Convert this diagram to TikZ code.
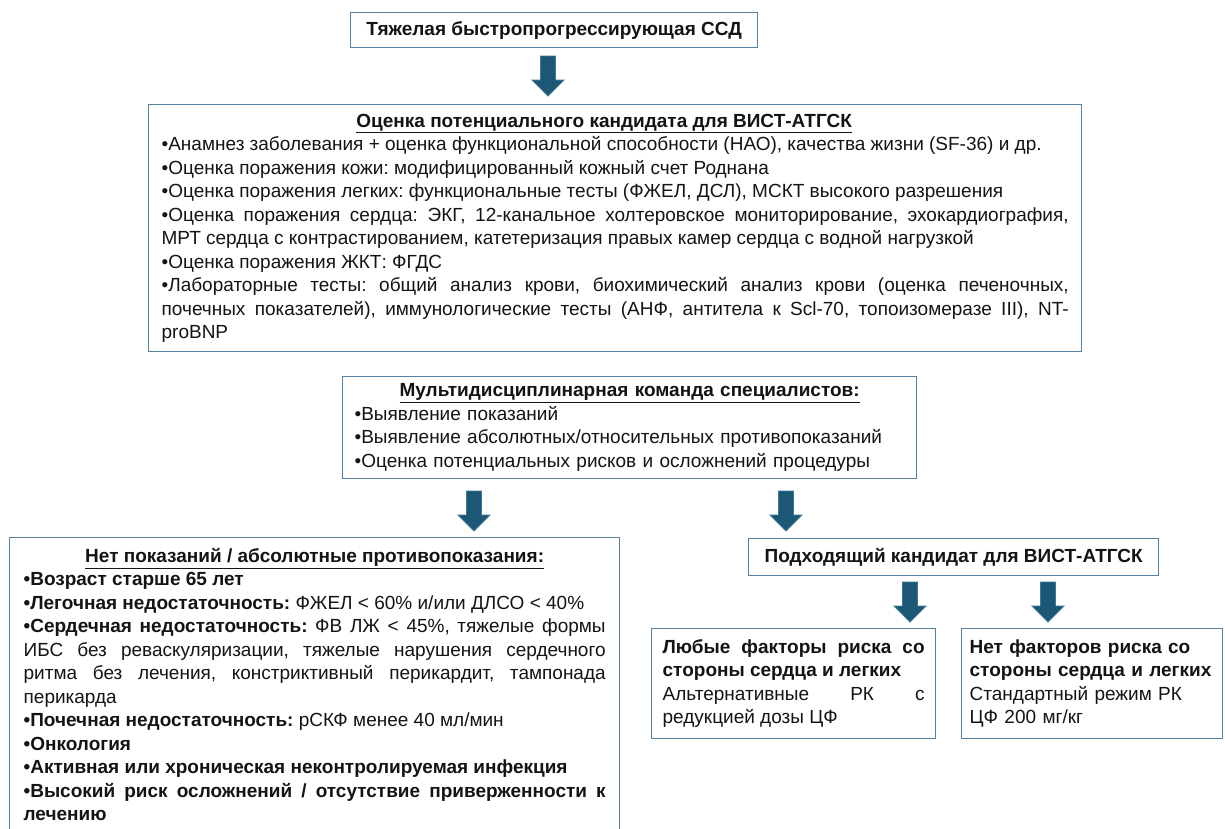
\documentclass[tikz,border=0pt]{standalone}
\usepackage{fontspec}
\setmainfont{Liberation Sans}
\definecolor{boxborder}{RGB}{84,130,160}
\definecolor{arrowfill}{RGB}{28,88,118}
\definecolor{arrowedge}{RGB}{62,122,152}
\definecolor{txt}{RGB}{20,20,20}
\newcommand{\myfs}{\fontsize{19}{23.5}\selectfont\frenchspacing}
\hyphenpenalty=10000
\exhyphenpenalty=10000
\frenchspacing
\begin{document}
\begin{tikzpicture}[x=1pt,y=-1pt,
  box/.style={draw=boxborder, line width=1.3pt, fill=white, inner xsep=11pt, inner ysep=3pt,
    text=txt, font=\myfs},
  blockarrow/.style={fill=arrowfill, draw=arrowedge, line width=0.8pt, line join=miter},
  downarrow/.pic={\draw[blockarrow] (-7.5,0) -- (7.5,0) -- (7.5,24) -- (16,24) -- (0,40) -- (-16,24) -- (-7.5,24) -- cycle;}]
\useasboundingbox (0,0) rectangle (1225,828);

\node[box, anchor=north west, minimum width=407pt, minimum height=35pt, font=\myfs\bfseries] (start) at (350,12)
  {Тяжелая быстропрогрессирующая ССД};

\node[box, anchor=north west, minimum width=933pt, minimum height=247pt, text width=907pt, align=justify] (assess) at (148,104) {%
\makebox[\linewidth]{\hspace*{-22pt}\textbf{\underline{Оценка потенциального кандидата для ВИСТ-АТГСК}}}\par
•Анамнез заболевания + оценка функциональной способности (НАО), качества жизни (SF-36) и др.\par
•Оценка поражения кожи: модифицированный кожный счет Роднана\par
•Оценка поражения легких: функциональные тесты (ФЖЕЛ, ДСЛ), МСКТ высокого разрешения\par
•Оценка поражения сердца: ЭКГ, 12-канальное холтеровское мониторирование, эхокардиография,\linebreak
МРТ сердца с контрастированием, катетеризация правых камер сердца с водной нагрузкой\par
•Оценка поражения ЖКТ: ФГДС\par
•Лабораторные тесты: общий анализ крови, биохимический анализ крови (оценка печеночных,\linebreak
почечных показателей), иммунологические тесты (АНФ, антитела к Scl-70, топоизомеразе III), NT-\linebreak
proBNP};

\node[box, anchor=north west, minimum width=574pt, minimum height=102pt, text width=550pt, align=left] (team) at (342,376) {%
\makebox[\linewidth]{\textbf{\underline{Мультидисциплинарная команда специалистов:}}}\par
•Выявление показаний\par
•Выявление абсолютных/относительных противопоказаний\par
•Оценка потенциальных рисков и осложнений процедуры};

\node[box, anchor=north west, minimum width=610pt, minimum height=294pt, text width=582pt, align=justify] (contra) at (9,537) {%
\makebox[\linewidth]{\textbf{\underline{Нет показаний / абсолютные противопоказания:}}}\par
\textbf{•Возраст старше 65 лет}\par
\textbf{•Легочная недостаточность:} ФЖЕЛ < 60\% и/или ДЛСО < 40\%\par
\textbf{•Сердечная недостаточность:} ФВ ЛЖ < 45\%, тяжелые формы\linebreak
ИБС без реваскуляризации, тяжелые нарушения сердечного\linebreak
ритма без лечения, констриктивный перикардит, тампонада\linebreak
перикарда\par
\textbf{•Почечная недостаточность:} рСКФ менее 40 мл/мин\par
\textbf{•Онкология}\par
\textbf{•Активная или хроническая неконтролируемая инфекция}\par
\textbf{•Высокий риск осложнений / отсутствие приверженности к\linebreak
лечению}};

\node[box, anchor=north west, minimum width=410pt, minimum height=37pt, font=\myfs\bfseries] (suit) at (748,538)
  {Подходящий кандидат для ВИСТ-АТГСК};

\node[box, anchor=north west, minimum width=284pt, minimum height=110pt, text width=262pt, align=justify] (risk) at (651,628) {%
\textbf{Любые факторы риска со\linebreak
стороны сердца и легких}\par
Альтернативные РК с\linebreak
редукцией дозы ЦФ};

\node[box, anchor=north west, minimum width=261pt, minimum height=110pt, inner xsep=8pt, text width=245pt, align=left] (norisk) at (961,628) {%
\textbf{Нет факторов риска со\\
стороны сердца и легких}\\
Стандартный режим РК\\
ЦФ 200 мг/кг};

\pic at (548,56) {downarrow};
\pic at (474,491) {downarrow};
\pic at (786,491) {downarrow};
\pic at (910,582) {downarrow};
\pic at (1048,582) {downarrow};
\end{tikzpicture}
\end{document}
